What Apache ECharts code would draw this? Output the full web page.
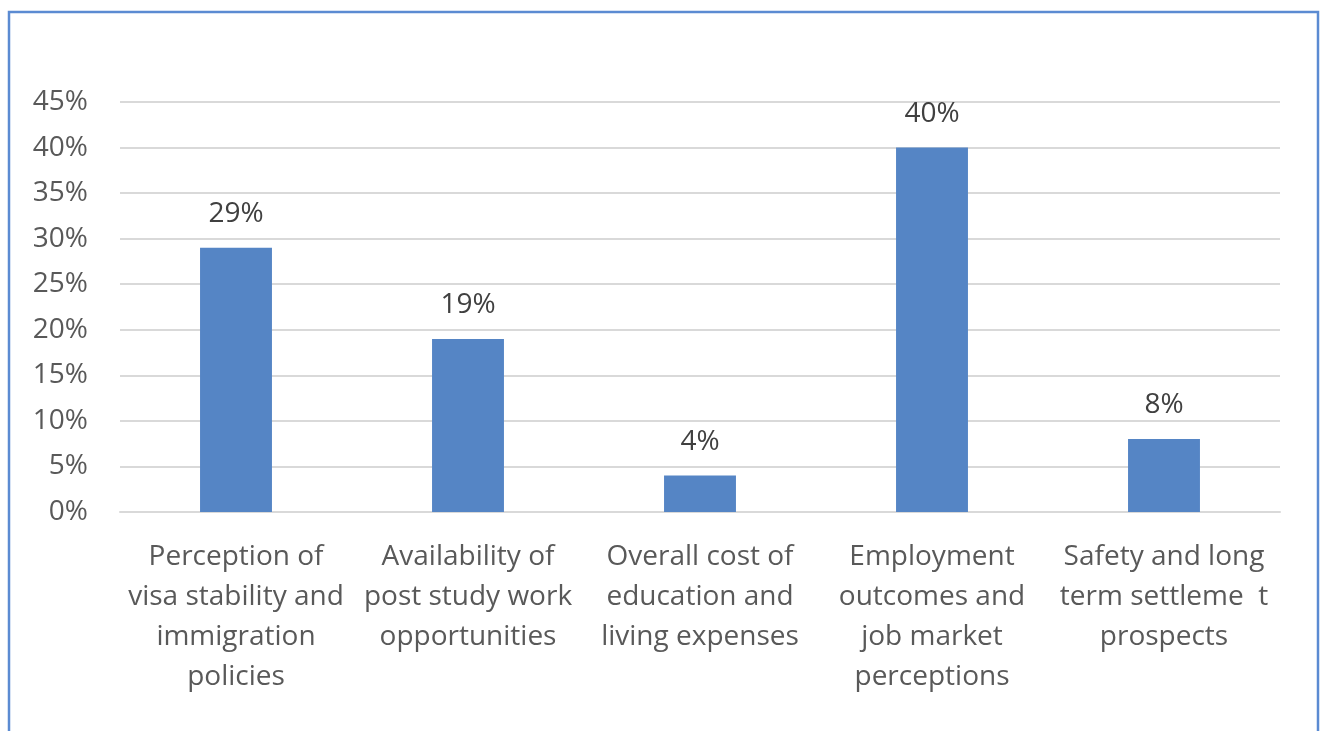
<!DOCTYPE html>
<html>
<head>
<meta charset="utf-8">
<script src="https://cdn.jsdelivr.net/npm/echarts@6/dist/echarts.min.js"></script>
<style>
  html, body { margin: 0; padding: 0; background: #ffffff; }
  #chart { width: 1321px; height: 731px; }
</style>
</head>
<body>
<div id="chart"></div>
<script>
// Factors influencing choice of study destination (share of respondents, %)
const categories = [
  'Perception of\nvisa stability and\nimmigration\npolicies',
  'Availability of\npost study work\nopportunities',
  'Overall cost of\neducation and\nliving expenses',
  'Employment\noutcomes and\njob market\nperceptions',
  'Safety and long\nterm settleme  t\nprospects'
];
const shares = [29, 19, 4, 40, 8];
const axisTicks = [0, 5, 10, 15, 20, 25, 30, 35, 40, 45];

const FONT = '"Open Sans"';
const chart = echarts.init(document.getElementById('chart'), null, { renderer: 'canvas' });

chart.setOption({
  backgroundColor: '#ffffff',
  animation: false,
  graphic: [{
    type: 'rect',
    shape: { x: 9, y: 12, width: 1309, height: 800 },
    style: { fill: 'none', stroke: '#5b8bd2', lineWidth: 2.5 },
    silent: true
  }],
  grid: { left: 120, right: 41, top: 102, bottom: 219, containLabel: false },
  xAxis: {
    type: 'category',
    data: categories,
    axisLine: { show: true, lineStyle: { color: '#d9d9d9', width: 2 } },
    axisTick: { show: false },
    axisLabel: {
      interval: 0,
      margin: 25,
      color: '#595959',
      fontFamily: FONT,
      fontSize: 28,
      lineHeight: 40,
      align: 'center'
    }
  },
  yAxis: {
    type: 'value',
    min: axisTicks[0],
    max: axisTicks[axisTicks.length - 1],
    interval: 5,
    axisLine: { show: false },
    axisTick: { show: false },
    splitLine: { lineStyle: { color: '#d9d9d9', width: 2 } },
    axisLabel: {
      margin: 32,
      color: '#595959',
      fontFamily: FONT,
      fontSize: 28,
      formatter: v => v + '%'
    }
  },
  series: [{
    type: 'bar',
    data: shares,
    barWidth: '31%',
    itemStyle: { color: '#5585c5' },
    label: {
      show: true,
      position: 'top',
      distance: 20,
      color: '#404040',
      fontFamily: FONT,
      fontSize: 28,
      formatter: p => p.value + '%'
    }
  }]
});
</script>
</body>
</html>
